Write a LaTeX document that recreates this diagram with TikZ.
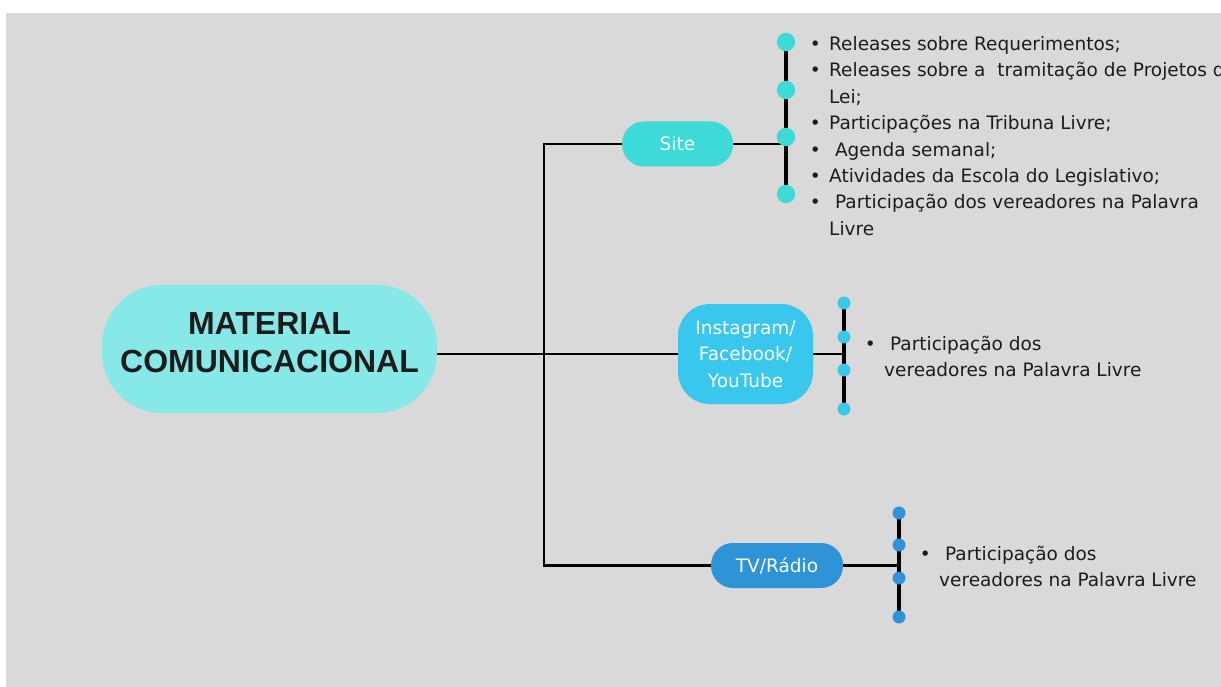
\documentclass[tikz,border=0pt]{standalone}
\usepackage{fontspec}
\setmainfont{DejaVu Sans}
\newfontfamily\titlefont{Liberation Sans}
\definecolor{bgc}{HTML}{D9D9D9}
\definecolor{mainc}{HTML}{87E9E7}
\definecolor{sitec}{HTML}{3DDAD8}
\definecolor{igc}{HTML}{39C7EE}
\definecolor{tvc}{HTML}{2F93D8}
\definecolor{txtc}{HTML}{1C1C1C}
\newcommand\mybul{\makebox[19.3pt][l]{•}}
\newcommand\myind{\hspace*{19.3pt}}
\begin{document}
\begin{tikzpicture}[x=1pt,y=-1pt,
  conn/.style={line width=2.4pt,black},
  sitebar/.style={line width=3.8pt,black},
  smallbar/.style={line width=3.2pt,black},
  pill/.style={rectangle,inner sep=0pt,text=white,font=\fontsize{18.5}{26.5}\selectfont,align=center},
  dotbig/.style={circle,inner sep=0pt,minimum size=18.5pt,fill=sitec},
  dotsmall/.style={circle,inner sep=0pt,minimum size=13pt},
  item/.style={anchor=base west,inner sep=0pt,text=txtc,font=\fontsize{18.5}{22}\selectfont},
  titletext/.style={inner sep=0pt,align=center,text=txtc,font=\titlefont\bfseries\fontsize{32}{38}\selectfont}
]
\useasboundingbox (0,0) rectangle (1221,687);
\fill[white] (0,0) rectangle (1221,687);
\fill[bgc] (6,13) rectangle (1221,687);
\begin{scope}
\clip (0,0) rectangle (1221,687);

% main node
\node[rectangle,fill=mainc,minimum width=335pt,minimum height=128pt,rounded corners=60pt,inner sep=0pt] (main) at (269.5,349) {};
\node[titletext] (title) at (269.5,343) {MATERIAL\\COMUNICACIONAL};

% branch nodes
\node[pill,fill=sitec,minimum width=111pt,minimum height=45pt,rounded corners=22pt] (site) at (677.5,144) {Site};
\node[pill,fill=igc,minimum width=135pt,minimum height=100pt,rounded corners=32pt] (ig) at (745.5,354) {Instagram/\\Facebook/\\YouTube};
\node[pill,fill=tvc,minimum width=132pt,minimum height=45pt,rounded corners=22pt] (tv) at (777,565.5) {TV/Rádio};

% trunk
\coordinate (tt) at (544,144);
\coordinate (tb) at (544,565.5);
\draw[conn] (site.west) -- (tt) -- (tb) -- (tv.west);
\draw[conn] (main.east |- ig.west) -- (ig.west);

% site bar
\coordinate (sa) at (786,42);
\coordinate (sb) at (786,194);
\draw[sitebar] (sa) -- (sb);
\draw[conn] (site.east) -- (site.east -| sa);
\node[dotbig] (sd1) at (786,42) {};
\node[dotbig] (sd2) at (786,90) {};
\node[dotbig] (sd3) at (786,137) {};
\node[dotbig] (sd4) at (786,194) {};

% ig bar
\coordinate (ia) at (844,303);
\coordinate (ib) at (844,409);
\draw[smallbar] (ia) -- (ib);
\draw[conn] (ig.east) -- (ig.east -| ia);
\node[dotsmall,fill=igc] (id1) at (844,303) {};
\node[dotsmall,fill=igc] (id2) at (844,337) {};
\node[dotsmall,fill=igc] (id3) at (844,370) {};
\node[dotsmall,fill=igc] (id4) at (844,409) {};

% tv bar
\coordinate (ta) at (899,513);
\coordinate (tbb) at (899,617);
\draw[smallbar] (ta) -- (tbb);
\draw[conn] (tv.east) -- (tv.east -| ta);
\node[dotsmall,fill=tvc] (td1) at (899,513) {};
\node[dotsmall,fill=tvc] (td2) at (899,545) {};
\node[dotsmall,fill=tvc] (td3) at (899,578) {};
\node[dotsmall,fill=tvc] (td4) at (899,617) {};

% site list
\node[item] (s1) at (809.7,50.5) {\mybul Releases sobre Requerimentos;};
\node[item] (s2) at (809.7,76.9) {\mybul Releases sobre a\ \ tramitação de Projetos de};
\node[item] (s3) at (809.7,103.3) {\myind Lei;};
\node[item] (s4) at (809.7,129.7) {\mybul Participações na Tribuna Livre;};
\node[item] (s5) at (809.7,156.1) {\mybul\ Agenda semanal;};
\node[item] (s6) at (809.7,182.5) {\mybul Atividades da Escola do Legislativo;};
\node[item] (s7) at (809.7,208.9) {\mybul\ Participação dos vereadores na Palavra};
\node[item] (s8) at (809.7,235.3) {\myind Livre};

% ig list
\node[item] (i1) at (864.7,350) {\mybul\ Participação dos};
\node[item] (i2) at (864.7,376) {\myind vereadores na Palavra Livre};

% tv list
\node[item] (v1) at (919.7,560) {\mybul\ Participação dos};
\node[item] (v2) at (919.7,586) {\myind vereadores na Palavra Livre};
\end{scope}
\end{tikzpicture}
\end{document}
